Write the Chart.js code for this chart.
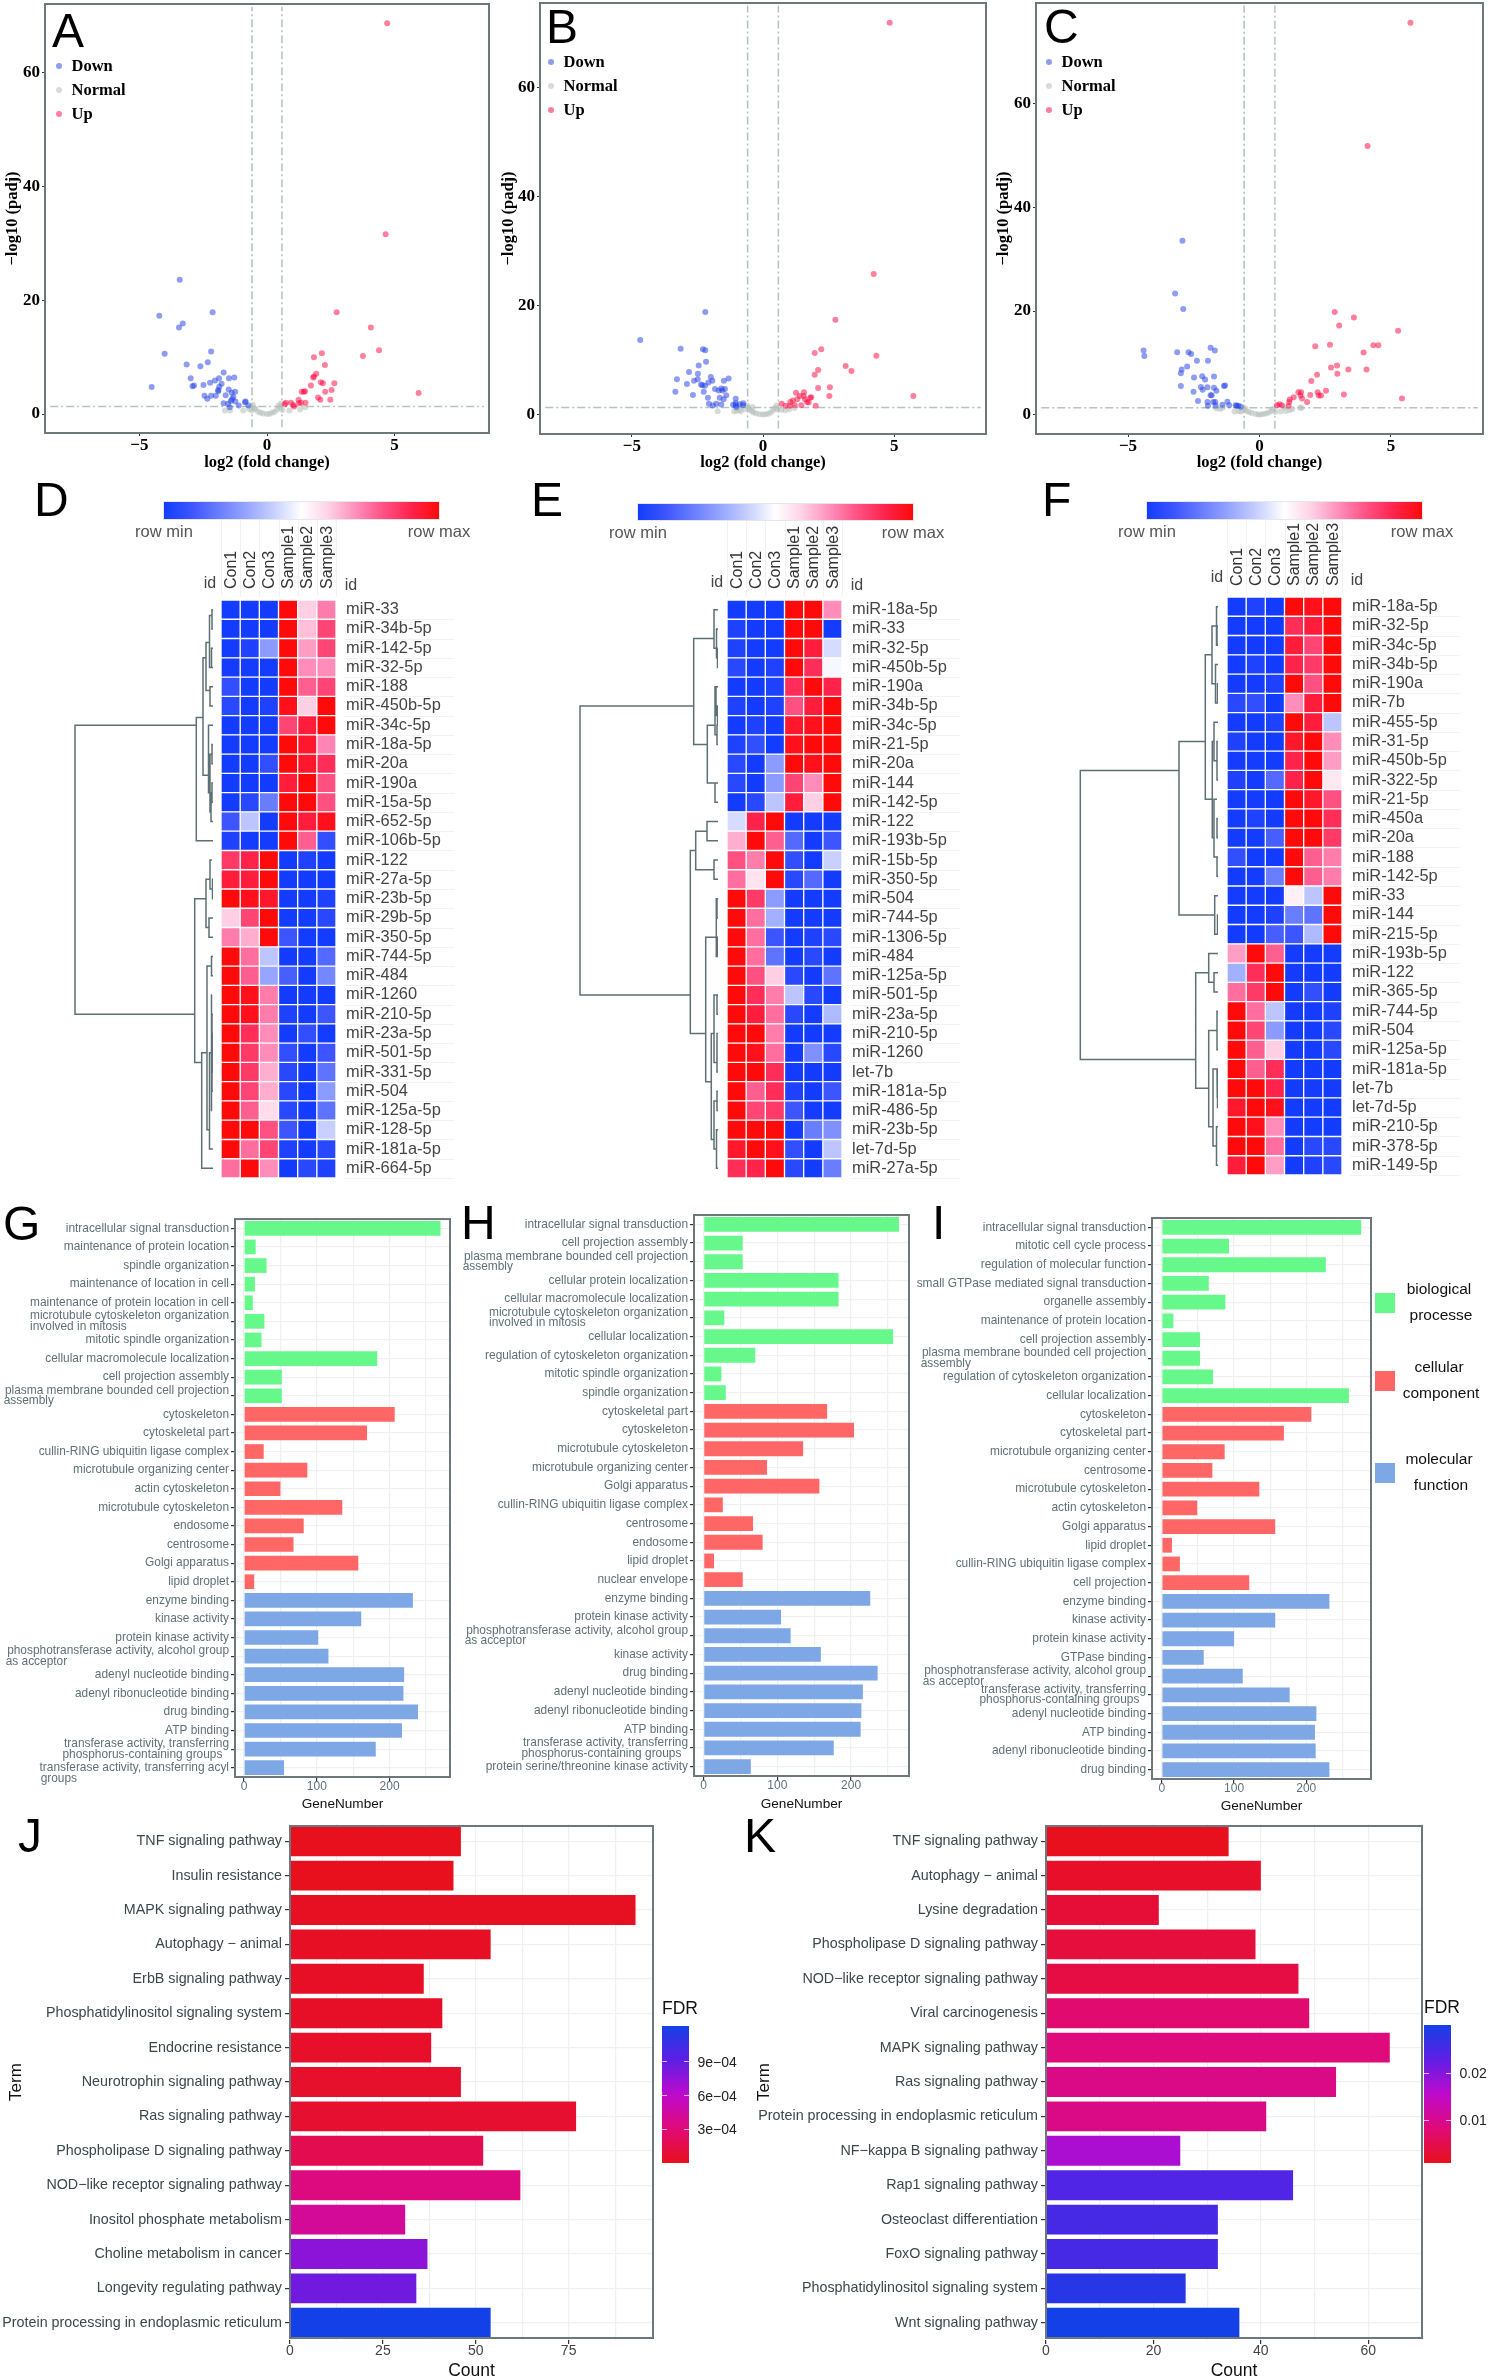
<!DOCTYPE html>
<html>
<head>
<meta charset="utf-8">
<title>miRNA figure</title>
<script src="https://cdn.jsdelivr.net/npm/chart.js@4"></script>
<style>
html, body { margin: 0; background: #fff; }
#page { position: relative; width: 1488px; height: 2380px; overflow: hidden; font-family: 'Liberation Sans', Arial, sans-serif; }
#page canvas { position: absolute; }
.t { position: absolute; white-space: nowrap; line-height: 1; }
</style>
</head>
<body>
<div id="page"></div>
<script>
// Volcano data, [log2 fold change, -log10 padj]
const upA = [[4.71,68.7],[4.65,31.6],[2.73,17.9],[4.07,15.2],[4.39,11.2],[3.76,10.2],[2.15,10.7],[1.84,10],[2.27,8.6],[1.93,7.1],[1.84,6.6],[1.81,6.4],[2.11,5.6],[2.19,5.4],[2.64,5.4],[2.53,4.2],[1.72,5],[2.28,3.9],[1.49,4],[1.45,3.9],[1.36,3.9],[2,2.9],[2.09,2.5],[2.48,2.5],[5.94,3.7],[1.24,2.5],[1.51,2],[1.33,2],[1.25,1.9],[1.03,1.6],[0.94,2],[0.74,2],[0.7,1.7],[1.06,1.3]];
const downA = [[-3.42,23.6],[-4.22,17.3],[-2.13,17.9],[-3.3,15.9],[-3.45,15.2],[-4.01,10.6],[-2.19,11],[-3.15,8.7],[-2.32,9.1],[-2.61,8.4],[-1.7,7.3],[-1.88,6.3],[-2.04,5.9],[-2.23,5.5],[-2.99,6.3],[-1.49,6.3],[-1.28,6.4],[-1.78,5.3],[-2.49,5.1],[-2.86,5],[-2.92,4.9],[-4.52,4.75],[-1.87,4.8],[-1.91,4.2],[-1.91,4],[-1.5,4.3],[-1.25,3.9],[-1.38,3.75],[-1.62,3.3],[-2.45,3.2],[-2.34,2.7],[-2.19,3.2],[-2.01,3.2],[-1.32,3],[-1.37,2.6],[-1.42,2.3],[-1.7,1.9],[-1.53,1.8],[-1.24,2.2],[-1.11,1.5],[-1.46,1.2],[-0.84,2.2],[-0.86,2.05],[-0.73,1.5]];
const normalA = [[-1.65,0.6],[-1.45,0.6],[-0.93,0.6],[-0.7,0.9],[-0.6,0.6],[-0.55,1.6],[-0.5,1],[-0.45,0.9],[-0.35,0.4],[-0.25,0.2],[-0.15,0.1],[0,0],[0.1,0.05],[0.2,0.2],[0.3,0.4],[0.4,0.8],[0.45,1.5],[0.5,1.2],[0.55,1.8],[0.6,0.7],[0.88,0.6],[1.3,0.8],[1.5,1.2]];

const upB = [[4.83,71.9],[4.22,25.8],[2.76,17.4],[2.22,12],[1.97,11.3],[4.32,10.8],[3.15,8.9],[3.37,8],[2.1,8.2],[1.97,7.3],[2.1,4.9],[2.55,5],[2.53,3.4],[5.73,3.4],[1.56,4.1],[1.26,4],[1.4,3.4],[1.55,3.4],[1.84,3.2],[1.8,3.1],[1.6,2.8],[1.31,2.8],[1.14,2.6],[1.04,2.3],[1.68,2.3],[1.74,2.2],[0.71,2],[1.46,1.7],[1.21,1.7],[2.01,1.6],[1.02,1.6],[0.86,1.6]];
const downB = [[-2.2,18.8],[-4.68,13.7],[-3.14,12.1],[-2.29,12],[-2.2,11.8],[-2.17,9.7],[-2.45,9],[-2.82,7.8],[-2.48,7.5],[-3.28,6.5],[-2.49,6.5],[-2.63,6.2],[-1.99,6.9],[-1.93,6.2],[-2.08,5.9],[-1.31,6.6],[-1.49,6.2],[-2.9,5.6],[-2.36,5.5],[-2.31,5.4],[-2.21,5.3],[-1.83,4.7],[-1.59,4.8],[-1.45,4.7],[-1.69,4.4],[-1.55,4.4],[-2.26,4.2],[-3.34,4.2],[-2.67,3.6],[-1.4,3.55],[-1.65,3.1],[-1.5,2.8],[-2.1,3.1],[-2.06,2],[-1.91,1.65],[-1.78,2],[-1.59,1.85],[-1.04,2.9],[-1.04,2.1],[-1.04,1.7],[-0.89,1.9],[-0.75,2.1],[-0.76,1.7],[-1.14,1.8],[-1.02,1.4]];
const normalB = [[-1.73,0.6],[-1.1,0.6],[-1,0.7],[-0.9,0.9],[-0.85,0.6],[-0.7,1],[-0.6,1.6],[-0.55,1.2],[-0.5,0.9],[-0.42,0.6],[-0.4,1.4],[-0.35,0.4],[-0.25,0.2],[-0.12,0.05],[0,0],[0.1,0.05],[0.2,0.15],[0.3,0.4],[0.38,0.8],[0.45,1.2],[0.52,1.7],[0.55,1],[0.7,0.9],[0.85,0.8],[1,1],[1.2,1.2]];

const upC = [[5.74,75.7],[4.11,51.9],[2.86,19.8],[3.59,18.75],[3.03,17.2],[5.27,16.2],[4.33,13.4],[4.52,13.4],[2.68,13.5],[2.12,13.2],[3.96,12],[2.95,9.5],[2.72,9.1],[3.38,8.7],[4.07,8.7],[2.96,7.9],[2.19,7.7],[1.97,6.5],[2.53,4.6],[1.48,4.3],[1.58,4.3],[2.21,4.3],[1.56,3.7],[1.93,3.8],[2.25,3.7],[2.34,3.7],[3.21,3.9],[5.42,3.1],[1.3,3.35],[1.62,3.1],[1.81,2.45],[1.15,2.9],[1.13,2.45],[1.11,1.7],[0.76,2],[0.66,1.8],[0.85,1.8]];
const downC = [[-2.93,33.6],[-3.21,23.4],[-2.9,20.4],[-4.41,12.4],[-4.38,11.3],[-3.13,12.05],[-2.7,12.05],[-2.6,11.7],[-1.86,12.9],[-1.7,12.4],[-2.38,10.4],[-1.96,10.4],[-2.75,9.3],[-2.96,8.7],[-2.99,8],[-2.49,7.15],[-2.18,7.4],[-2.07,6.8],[-1.73,7.35],[-2.99,5.5],[-2.23,5.35],[-1.98,5.3],[-2.16,4.8],[-1.73,5.2],[-1.64,4.6],[-1.35,5.5],[-1.31,5.6],[-2.51,4.4],[-1.86,3.75],[-1.82,3.75],[-2.34,2.6],[-1.98,2.45],[-1.76,2.45],[-1.68,2.45],[-1.22,2.5],[-1.96,1.7],[-1.67,1.7],[-1.41,1.9],[-1.15,1.8],[-0.9,1.8],[-0.8,1.7],[-0.87,1.7],[-0.71,1.5]];
const normalC = [[-1.65,1.2],[-1.5,1.1],[-1.4,1.3],[-0.95,0.6],[-0.8,0.7],[-0.7,0.6],[-0.6,0.9],[-0.55,1.2],[-0.5,0.7],[-0.4,0.5],[-0.3,0.3],[-0.15,0.1],[-0.05,0.02],[0.05,0.03],[0.15,0.1],[0.25,0.2],[0.35,0.4],[0.45,0.7],[0.5,1.1],[0.6,0.5],[0.8,0.6],[0.95,1.4],[1,0.7],[1.15,0.9],[1.25,1.1],[1.55,1.3],[1.6,1.3]];

const fcCut = 0.585;
const padjCut = 1.3;

// Heatmap data, row scaled from -1 (row min) to 1 (row max)
const sampleNames = ['Con1', 'Con2', 'Con3', 'Sample1', 'Sample2', 'Sample3'];

const rowsD = ['miR-33','miR-34b-5p','miR-142-5p','miR-32-5p','miR-188','miR-450b-5p','miR-34c-5p','miR-18a-5p','miR-20a','miR-190a','miR-15a-5p','miR-652-5p','miR-106b-5p','miR-122','miR-27a-5p','miR-23b-5p','miR-29b-5p','miR-350-5p','miR-744-5p','miR-484','miR-1260','miR-210-5p','miR-23a-5p','miR-501-5p','miR-331-5p','miR-504','miR-125a-5p','miR-128-5p','miR-181a-5p','miR-664-5p'];
const cellsD = [[-1,-1,-1,1,.2,.45],[-1,-1,-1,1,.25,.65],[-1,-.95,-.45,1,.35,.65],[-1,-1,-1,1,.4,.4],[-.85,-1,-1,1,.55,.65],[-.9,-1,-.95,.95,.2,1],[-1,-1,-1,.65,.85,1],[-1,-1,-1,1,.9,.42],[-1,-1,-.85,1,.9,.75],[-1,-1,-1,.85,1,.6],[-1,-.9,-.6,1,1,.6],[-.8,-.25,-1,1,.85,.95],[-.95,-1,-1,1,.55,-.85],[.7,.8,1,-1,-.95,-1],[.85,.85,1,-1,-1,-1],[1,.95,.9,-1,-1,-.95],[.2,.65,1,-1,-1,-.9],[.45,.3,1,-.8,-1,-1],[1,.5,-.25,-1,-1,-.7],[1,.55,-.4,-.75,-1,-.55],[1,.95,.45,-1,-1,-1],[1,.95,.45,-.95,-1,-.8],[1,.75,.4,-1,-.85,-1],[1,.7,.4,-.85,-1,-.8],[1,.7,.3,-.9,-1,-.65],[1,.65,.3,-.9,-1,-.45],[1,.55,.15,-.9,-1,-.65],[1,1,.6,-.8,-1,-.2],[1,.5,.65,-.95,-1,-.9],[.5,1,.4,-1,-.9,-.95]];

const rowsE = ['miR-18a-5p','miR-33','miR-32-5p','miR-450b-5p','miR-190a','miR-34b-5p','miR-34c-5p','miR-21-5p','miR-20a','miR-144','miR-142-5p','miR-122','miR-193b-5p','miR-15b-5p','miR-350-5p','miR-504','miR-744-5p','miR-1306-5p','miR-484','miR-125a-5p','miR-501-5p','miR-23a-5p','miR-210-5p','miR-1260','let-7b','miR-181a-5p','miR-486-5p','miR-23b-5p','let-7d-5p','miR-27a-5p'];
const cellsE = [[-1,-1,-1,1,1,.4],[-.95,-1,-1,1,1,-1],[-.95,-1,-1,1,.85,-.15],[-.9,-1,-.95,1,.75,-.03],[-1,-1,-.95,.75,1,.8],[-.95,-1,-.95,.6,.85,1],[-1,-.95,-1,.9,.95,1],[-.95,-.85,-1,.95,1,1],[-.9,-1,-.45,1,.95,1],[-.9,-1,-.45,.65,.4,1],[-1,-.9,-.25,.85,.2,1],[-.15,.8,1,-1,-1,-1],[.3,1,.55,-.7,-1,-.8],[.6,.45,1,-.85,-1,-.2],[.5,.12,1,-.9,-.7,-1],[1,.7,-.45,-1,-1,-1],[1,.5,-.35,-1,-1,-1],[1,.5,-.8,-1,-.95,-.9],[1,.5,-.65,-1,-.9,-1],[1,.6,.2,-.9,-1,-.65],[1,.75,.45,-.25,-.9,-1],[1,.85,.5,-.9,-1,-.3],[1,1,.45,-1,-1,-1],[1,.95,.5,-1,-.5,-.9],[1,1,.75,-1,-1,-1],[1,.55,.75,-.95,-1,-.8],[1,.65,.7,-.8,-1,-1],[1,1,1,-1,-.6,-.5],[.9,1,.95,-.85,-1,-.25],[.75,.8,1,-.9,-1,-.6]];

const rowsF = ['miR-18a-5p','miR-32-5p','miR-34c-5p','miR-34b-5p','miR-190a','miR-7b','miR-455-5p','miR-31-5p','miR-450b-5p','miR-322-5p','miR-21-5p','miR-450a','miR-20a','miR-188','miR-142-5p','miR-33','miR-144','miR-215-5p','miR-193b-5p','miR-122','miR-365-5p','miR-744-5p','miR-504','miR-125a-5p','miR-181a-5p','let-7b','let-7d-5p','miR-210-5p','miR-378-5p','miR-149-5p'];
const cellsF = [[-1,-.95,-1,1,.95,1],[-1,-1,-1,.75,.85,1],[-1,-1,-1,.85,.65,1],[-1,-.95,-1,.8,.7,1],[-1,-1,-.95,1,.6,1],[-.9,-.85,-1,.4,.85,1],[-1,-1,-.95,1,.85,-.25],[-.95,-1,-1,.9,1,.4],[-1,-1,-1,.8,1,.35],[-.95,-1,-.7,.8,1,.1],[-1,-1,-1,1,.9,.6],[-1,-.95,-1,1,1,.75],[-1,-1,-.75,1,1,.7],[-.85,-1,-1,1,.55,.45],[-1,-1,-.6,1,.55,.45],[-1,-1,-1,.07,-.25,1],[-1,-1,-.95,-.6,-.65,1],[-1,-1,-.75,-.8,-.3,1],[.35,1,.55,-1,-1,-1],[-.35,.75,1,-1,-1,-1],[.5,.7,1,-1,-.85,-1],[1,.5,-.25,-1,-1,-.95],[1,.65,-.45,-1,-1,-.9],[1,.55,.2,-1,-1,-.9],[1,.55,.75,-1,-1,-1],[1,1,.8,-1,-1,-1],[.9,1,.95,-1,-1,-1],[1,.95,.4,-1,-1,-1],[1,1,.5,-1,-.9,-.9],[.85,1,.35,-1,-.95,-.9]];

// Dendrogram merges: [merge height, row a, height a, row b, height b]
const dendroD = [[138,6,16.7,21,18.3],[16.7,5.6,10,12,0],[10,2.5,7,8.6,4.5],[7,1.7,3.5,4.2,3],[3.5,.3,1,3,1.5],[1,0,0,1,0],[1.5,2,0,3,0],[3,4,0,5,0],[4.5,6,0,9.5,3],[3,7.5,1,10.5,2],[1,7,0,8,0],[2,9.5,1,11,0],[1,9,0,10,0],[18.3,15,7,23.5,11.3],[7,14,3,16.5,4],[3,13,1,14.5,.5],[.5,14,0,15,0],[4,16,0,17,0],[11.3,23,6,29,0],[6,18.5,1.5,27,3.5],[1.5,18,0,19,0],[3.5,23,1.5,28,0],[1.5,20,1,26,1],[1,21,0,25,0],[.8,22,0,24,0],[1,23,0,25,0]];
const dendroE = [[138,5,24.3,20,27.7],[24.3,1.5,4,7,10.7],[4,0,0,2,1.5],[1.5,1,0,2.5,.5],[.5,2,0,3,0],[10.7,6,3,9,3],[3,4,2,6.5,1],[2,4,0,5.5,.5],[.5,5,0,6,0],[1,6,0,7,0],[3,9,0,10,0],[27.7,12.5,22.3,22,12.3],[22.3,11.5,11,13.5,4],[11,11,0,12,0],[4,13,0,14,0],[12.3,17,1.7,24.5,6.7],[1.7,15,1,18,.7],[1,15,0,16,0],[.7,17,0,18,0],[6.7,22,4,27.5,4],[4,20,1,23.5,1],[1,20,0,21,0],[1,22,0,24,0],[4,25.5,1,28,1.5],[1,25,0,26,0],[1.5,27,0,29,0]];
const dendroF = [[137.7,8.5,39,23.5,22.3],[39,7,12.7,16,3.3],[12.7,2.5,6,10,5.7],[6,1,1.5,4,2.5],[1.5,0,0,2,0],[1,1,0,2,0],[2.5,3,0,5,.5],[.5,4,0,5,0],[5.7,7,4,12,4],[4,6,0,8,1],[1,7,0,9,0],[4,10,1,13,1],[1,11,0,12,0],[1,13,0,14,0],[3.3,15,0,17,.5],[.5,16,0,17,0],[22.3,19,9.3,25,9.3],[9.3,18,0,19.5,4],[4,19,0,20,0],[9.3,22,1,27,5],[1,21,0,23,0],[5,24,1,28,1.5],[1,24,0,25.5,.5],[.5,25,0,26,0],[1.5,27,0,29,0]];

// GO enrichment gene counts
const termsG = ['intracellular signal transduction','maintenance of protein location','spindle organization','maintenance of location in cell','maintenance of protein location in cell',['microtubule cytoskeleton organization','involved in mitosis'],'mitotic spindle organization','cellular macromolecule localization','cell projection assembly',['plasma membrane bounded cell projection','assembly'],'cytoskeleton','cytoskeletal part','cullin-RING ubiquitin ligase complex','microtubule organizing center','actin cytoskeleton','microtubule cytoskeleton','endosome','centrosome','Golgi apparatus','lipid droplet','enzyme binding','kinase activity','protein kinase activity',['phosphotransferase activity, alcohol group','as acceptor'],'adenyl nucleotide binding','adenyl ribonucleotide binding','drug binding','ATP binding',['transferase activity, transferring','phosphorus-containing groups'],['','transferase activity, transferring acyl','groups']];
const countsG = [270,16,31,15,12,28,24,183,52,52,207,169,27,87,50,135,82,68,157,14,232,161,102,116,220,219,239,217,181,55];

const termsH = ['intracellular signal transduction','cell projection assembly',['plasma membrane bounded cell projection','assembly'],'cellular protein localization','cellular macromolecule localization',['microtubule cytoskeleton organization','involved in mitosis'],'cellular localization','regulation of cytoskeleton organization','mitotic spindle organization','spindle organization','cytoskeletal part','cytoskeleton','microtubule cytoskeleton','microtubule organizing center','Golgi apparatus','cullin-RING ubiquitin ligase complex','centrosome','endosome','lipid droplet','nuclear envelope','enzyme binding','protein kinase activity',['phosphotransferase activity, alcohol group','as acceptor'],'kinase activity','drug binding','adenyl nucleotide binding','adenyl ribonucleotide binding','ATP binding',['transferase activity, transferring','phosphorus-containing groups'],'protein serine/threonine kinase activity'];
const countsH = [265,53,53,183,183,28,257,70,24,30,167.5,204,135,86,157,26,67,80,14,53,226,105,118,159,236,216,214,213,176.5,64];

const termsI = ['intracellular signal transduction','mitotic cell cycle process','regulation of molecular function','small GTPase mediated signal transduction','organelle assembly','maintenance of protein location','cell projection assembly',['plasma membrane bounded cell projection','assembly'],'regulation of cytoskeleton organization','cellular localization','cytoskeleton','cytoskeletal part','microtubule organizing center','centrosome','microtubule cytoskeleton','actin cytoskeleton','Golgi apparatus','lipid droplet','cullin-RING ubiquitin ligase complex','cell projection','enzyme binding','kinase activity','protein kinase activity','GTPase binding',['phosphotransferase activity, alcohol group','as acceptor'],['transferase activity, transferring','phosphorus-containing groups'],'adenyl nucleotide binding','ATP binding','adenyl ribonucleotide binding','drug binding'];
const countsI = [276,93,227,65,88,16,53,53,71,259,207,169,87,70,135,49,157,14,25,121,232,157,100,58,112,177,214,212,213,232];

// KEGG counts and FDR
const termsJ = ['TNF signaling pathway','Insulin resistance','MAPK signaling pathway','Autophagy \u2212 animal','ErbB signaling pathway','Phosphatidylinositol signaling system','Endocrine resistance','Neurotrophin signaling pathway','Ras signaling pathway','Phospholipase D signaling pathway','NOD\u2212like receptor signaling pathway','Inositol phosphate metabolism','Choline metabolism in cancer','Longevity regulating pathway','Protein processing in endoplasmic reticulum'];
const countsJ = [46,44,93,54,36,41,38,46,77,52,62,31,37,34,54];
const fdrJ = [.05e-4,.1e-4,.25e-4,.3e-4,.4e-4,.45e-4,.5e-4,.6e-4,.7e-4,1.8e-4,3.3e-4,4.2e-4,7.7e-4,8.6e-4,12.2e-4];

const termsK = ['TNF signaling pathway','Autophagy \u2212 animal','Lysine degradation','Phospholipase D signaling pathway','NOD\u2212like receptor signaling pathway','Viral carcinogenesis','MAPK signaling pathway','Ras signaling pathway','Protein processing in endoplasmic reticulum','NF\u2212kappa B signaling pathway','Rap1 signaling pathway','Osteoclast differentiation','FoxO signaling pathway','Phosphatidylinositol signaling system','Wnt signaling pathway'];
const countsK = [34,40,21,39,47,49,64,54,41,25,46,32,32,26,36];
const fdrK = [.001,.002,.003,.0035,.004,.0075,.0085,.0095,.0095,.017,.0245,.0255,.0255,.0285,.0304];

const page = document.getElementById('page');
const dotColors = { Down: 'rgba(30,60,230,0.5)', Normal: 'rgba(180,192,186,0.55)', Up: 'rgba(255,0,60,0.5)' };
const goColors = ['#66f88a', '#ff6666', '#7ea7e6'];

const heatStops = [[-1,[20,60,255]],[-.8,[60,85,255]],[-.6,[105,125,255]],[-.4,[150,165,255]],[-.2,[200,208,255]],[0,[255,255,255]],[.2,[255,208,228]],[.4,[255,140,185]],[.6,[255,80,130]],[.8,[255,35,75]],[1,[255,10,10]]];
const fdrStops = [[0,[232,16,26]],[.25,[224,10,120]],[.5,[190,10,205]],[.75,[95,30,228]],[1,[20,64,232]]];

function rampColor(stops, v) {
    for (let i = 1; i < stops.length; i++) {
        if (v <= stops[i][0]) {
            const [a, ca] = stops[i - 1];
            const [b, cb] = stops[i];
            const f = Math.max(0, (v - a) / (b - a));
            return `rgb(${ca.map((c, k) => Math.round(c + (cb[k] - c) * f)).join(',')})`;
        }
    }
    return `rgb(${stops[stops.length - 1][1].join(',')})`;
}

function cssRamp(stops, dir) {
    const lo = stops[0][0], hi = stops[stops.length - 1][0];
    const parts = stops.map(s => `rgb(${s[1].join(',')}) ${(s[0] - lo) / (hi - lo) * 100}%`);
    return `linear-gradient(${dir}, ${parts.join(', ')})`;
}

function addText(str, x, y, font, opts = {}) {
    const el = document.createElement('span');
    el.className = 't';
    el.textContent = str;
    el.style.left = x + 'px';
    el.style.top = y + 'px';
    el.style.font = font;
    el.style.lineHeight = '1';
    el.style.color = opts.color || '#111';
    el.style.transform = opts.left ? 'translateY(-50%)' : 'translate(-50%,-50%)';
    page.appendChild(el);
}

function addBox(x, y, w, h, bg, extra) {
    const el = document.createElement('div');
    el.style.cssText = `position:absolute;left:${x}px;top:${y}px;width:${w}px;height:${h}px;background:${bg};${extra || ''}`;
    page.appendChild(el);
}

function addLetter(str, x, top) {
    const el = document.createElement('span');
    el.className = 't';
    el.textContent = str;
    el.style.cssText += `left:${x}px;top:${top}px;font:48px 'Liberation Sans';line-height:48px;color:#000;`;
    page.appendChild(el);
}

function newCanvas(l, t, w, h) {
    const c = document.createElement('canvas');
    c.width = w;
    c.height = h;
    c.style.left = l + 'px';
    c.style.top = t + 'px';
    page.appendChild(c);
    return c.getContext('2d');
}

// box round the plot, inset is used where the bars are cut by the panel edge
const framePlugin = {
    id: 'frame',
    afterDraw(chart, args, opts) {
        const a = chart.chartArea, c = chart.ctx;
        const inT = opts.insetTop || 0, inB = opts.insetBottom || 0;
        c.save();
        c.strokeStyle = '#6d787c';
        c.lineWidth = 2;
        c.strokeRect(a.left, a.top + inT, a.right - a.left, a.bottom - a.top - inT - inB);
        c.restore();
    }
};

const baseOptions = { responsive: false, animation: false, events: [], plugins: { legend: { display: false }, tooltip: { enabled: false } } };

// Volcano panels
function volcano(cfg) {
    const p = cfg.plot, ml = 45, mt = 16, mr = 6, mb = 42;
    const ctx = newCanvas(p.l - ml, p.t - mt, p.r - p.l + ml + mr, p.b - p.t + mt + mb);
    const toXY = arr => arr.map(d => ({ x: d[0], y: d[1] }));
    const dots = (arr, color) => ({ data: toXY(arr), backgroundColor: color, borderWidth: 0, pointRadius: 3, showLine: false });
    const cut = pts => ({ data: pts, showLine: true, pointRadius: 0, borderColor: '#b6c2c2', borderWidth: 1.5, borderDash: [8, 3, 2, 3] });
    const xm = cfg.xMax - 0.2;
    new Chart(ctx, {
        type: 'scatter',
        data: { datasets: [
            dots(cfg.up, dotColors.Up),
            dots(cfg.down, dotColors.Down),
            dots(cfg.normal, dotColors.Normal),
            cut([{ x: -fcCut, y: cfg.yMin + 1 }, { x: -fcCut, y: cfg.yMax - 0.5 }]),
            cut([{ x: fcCut, y: cfg.yMin + 1 }, { x: fcCut, y: cfg.yMax - 0.5 }]),
            cut([{ x: -xm, y: padjCut }, { x: xm, y: padjCut }])
        ] },
        options: {
            ...baseOptions,
            layout: { padding: { top: mt, right: mr, left: 0, bottom: 0 } },
            plugins: { ...baseOptions.plugins, frame: {} },
            scales: {
                x: {
                    min: -cfg.xMax, max: cfg.xMax,
                    afterFit: s => { s.height = mb; },
                    border: { display: false },
                    grid: { drawOnChartArea: false, tickLength: 3, tickColor: '#333' },
                    ticks: { stepSize: 5, includeBounds: false, padding: 1, color: '#000', font: { family: 'Liberation Serif', weight: 'bold', size: 17, lineHeight: 1 }, maxRotation: 0, callback: v => String(v).replace('-', '\u2212') },
                    title: { display: true, text: 'log2 (fold change)', color: '#000', font: { family: 'Liberation Serif', weight: 'bold', size: 16.5, lineHeight: 1.2 }, padding: { top: 0, bottom: p.b + mb - cfg.xTitleY - 10 } }
                },
                y: {
                    min: cfg.yMin, max: cfg.yMax,
                    afterFit: s => { s.width = ml; },
                    border: { display: false },
                    grid: { drawOnChartArea: false, tickLength: 3, tickColor: '#333' },
                    ticks: { stepSize: 20, includeBounds: false, padding: 2, color: '#000', font: { family: 'Liberation Serif', weight: 'bold', size: 17 } },
                    title: { display: true, text: '\u2212log10 (padj)', color: '#000', font: { family: 'Liberation Serif', weight: 'bold', size: 16.5, lineHeight: 1.2 }, padding: { top: cfg.yTitleX - (p.l - ml) - 10, bottom: 0 } }
                }
            }
        },
        plugins: [framePlugin]
    });
    // legend
    ['Down', 'Normal', 'Up'].forEach((name, i) => {
        const y = cfg.legendY[i];
        addBox(cfg.legendX - 3, y - 3, 6, 6, dotColors[name], 'border-radius:50%');
        addText(name, cfg.legendX + 12.5, y, "bold 16.5px 'Liberation Serif'", { left: true, color: '#000' });
    });
}

volcano({ plot: { l: 45, r: 489, t: 4, b: 433 }, up: upA, down: downA, normal: normalA, xMax: 8.7, yMin: -3.34, yMax: 72.1, xTitleY: 463, yTitleX: 13, legendX: 59, legendY: [66, 90, 114] });
volcano({ plot: { l: 540, r: 986, t: 3, b: 434 }, up: upB, down: downB, normal: normalB, xMax: 8.5, yMin: -3.56, yMax: 75.5, xTitleY: 463, yTitleX: 509, legendX: 551, legendY: [62, 86, 110] });
volcano({ plot: { l: 1036, r: 1483, t: 3, b: 434 }, up: upC, down: downC, normal: normalC, xMax: 8.5, yMin: -3.75, yMax: 79.5, xTitleY: 463, yTitleX: 1004, legendX: 1049, legendY: [62, 86, 110] });

// Heatmap panels, one stacked bar per row with one unit per sample
function heatmap(cfg) {
    const p = cfg.plot, ml = 40, mt = 90, mr = 125, mb = 24;
    const ctx = newCanvas(p.l - ml, p.t - mt, p.r - p.l + ml + mr, p.b - p.t + mt + mb);
    const rowLines = {
        id: 'rowLines',
        beforeDraw(chart) {
            const a = chart.chartArea, c = chart.ctx, ys = chart.scales.y, xs = chart.scales.x;
            c.save();
            c.strokeStyle = '#f1f3f3';
            c.lineWidth = 1;
            c.beginPath();
            cfg.rows.forEach((r, i) => {
                const y = Math.round(ys.getPixelForValue(i) + 9.6) + 0.5;
                c.moveTo(a.right + 8, y);
                c.lineTo(a.right + 118, y);
            });
            for (let v = 0; v <= sampleNames.length; v++) {
                const x = Math.round(xs.getPixelForValue(v)) + 0.5;
                c.moveTo(x, 8);
                c.lineTo(x, a.top - 3);
            }
            c.stroke();
            c.restore();
        }
    };
    new Chart(ctx, {
        type: 'bar',
        data: {
            labels: cfg.rows,
            datasets: sampleNames.map((s, col) => ({
                label: s,
                data: cfg.rows.map(() => 1),
                backgroundColor: cfg.cells.map(row => rampColor(heatStops, row[col])),
                borderColor: '#fff',
                borderWidth: 1,
                borderSkipped: false,
                barPercentage: 1,
                categoryPercentage: 1
            }))
        },
        options: {
            ...baseOptions,
            indexAxis: 'y',
            layout: { padding: { top: 0, right: 0, left: ml, bottom: mb } },
            scales: {
                x: {
                    position: 'top', stacked: true, min: 0, max: sampleNames.length,
                    afterFit: s => { s.height = mt; },
                    afterBuildTicks: s => { s.ticks = sampleNames.map((n, i) => ({ value: i + 0.5 })); },
                    border: { display: false },
                    grid: { display: false, drawTicks: false },
                    // the library pushes rotated top labels one line height to the left
                    ticks: { autoSkip: false, minRotation: 90, maxRotation: 90, padding: 11, labelOffset: 20, color: '#333', font: { family: 'Liberation Sans', size: 16 }, callback: v => sampleNames[v - 0.5] }
                },
                y: {
                    position: 'right', stacked: true,
                    afterFit: s => { s.width = mr; },
                    border: { display: false },
                    grid: { display: false, drawTicks: false },
                    ticks: { autoSkip: false, padding: 10, color: '#444', font: { family: 'Liberation Sans', size: 16.4 } }
                }
            }
        },
        plugins: [rowLines]
    });

    // dendrogram on the left of the cells
    const d = cfg.dendro, w = 146;
    const pts = [];
    d.forEach(m => {
        pts.push({ x: m[2], y: m[1] }, { x: m[0], y: m[1] }, { x: m[0], y: m[3] }, { x: m[4], y: m[3] }, { x: null, y: null });
    });
    const dctx = newCanvas(cfg.leafX - w, p.t, w, p.b - p.t);
    new Chart(dctx, {
        type: 'scatter',
        data: { datasets: [{ data: pts, showLine: true, spanGaps: false, pointRadius: 0, borderColor: '#5d7076', borderWidth: 1.5 }] },
        options: {
            ...baseOptions,
            scales: {
                x: { display: false, reverse: true, min: 0, max: w },
                y: { display: false, reverse: true, min: -0.5, max: cfg.rows.length - 0.5 }
            }
        }
    });

    // colour key
    const k = cfg.key;
    addBox(k.l, k.t, k.r - k.l, k.b - k.t, cssRamp(heatStops, 'to right'), 'box-shadow:0 0 0 1px #e6e6ee');
    addText('row min', k.l, k.b + 12, "16.5px 'Liberation Sans'", { color: '#555' });
    addText('row max', k.r, k.b + 12, "16.5px 'Liberation Sans'", { color: '#555' });
    addText('id', cfg.idL[0], cfg.idL[1], "16px 'Liberation Sans'", { color: '#444' });
    addText('id', cfg.idR[0], cfg.idR[1], "16px 'Liberation Sans'", { color: '#444' });
}

heatmap({ plot: { l: 221, r: 336, t: 600, b: 1178 }, rows: rowsD, cells: cellsD, dendro: dendroD, leafX: 213, key: { l: 164, r: 439, t: 502, b: 519 }, idL: [210, 583], idR: [351, 585] });
heatmap({ plot: { l: 727, r: 842, t: 600, b: 1178 }, rows: rowsE, cells: cellsE, dendro: dendroE, leafX: 718, key: { l: 638, r: 913, t: 504, b: 520 }, idL: [717, 582], idR: [857, 585] });
heatmap({ plot: { l: 1227, r: 1342, t: 597, b: 1175 }, rows: rowsF, cells: cellsF, dendro: dendroF, leafX: 1218, key: { l: 1147, r: 1422, t: 502, b: 519 }, idL: [1217, 577], idR: [1357, 580] });

// line up wrapped labels on their left side, as in the figure
const measureCtx = document.createElement('canvas').getContext('2d');
function padLabel(label, font) {
    if (!Array.isArray(label)) return label;
    measureCtx.font = font;
    const sp = measureCtx.measureText(' ').width;
    const widths = label.map(l => measureCtx.measureText(l).width);
    const most = Math.max(...widths);
    return label.map((l, i) => l + ' '.repeat(Math.round((most - widths[i]) / sp)));
}

// GO panels
function goBars(cfg) {
    const p = cfg.plot, mt = 16, mr = 16, mb = 40;
    const ml = cfg.ml;
    const labelFont = "11.9px 'Liberation Sans'";
    const ctx = newCanvas(p.l - ml, p.t - mt, p.r - p.l + ml + mr, p.b - p.t + mt + mb);
    new Chart(ctx, {
        type: 'bar',
        data: {
            labels: cfg.terms.map(t => padLabel(t, labelFont)),
            datasets: [{ data: cfg.counts, backgroundColor: cfg.counts.map((c, i) => goColors[Math.floor(i / 10)]), barPercentage: 0.79, categoryPercentage: 1 }]
        },
        options: {
            ...baseOptions,
            indexAxis: 'y',
            layout: { padding: { top: mt, right: mr, left: 0, bottom: 0 } },
            plugins: { ...baseOptions.plugins, frame: {} },
            scales: {
                x: {
                    min: cfg.xMin, max: cfg.xMax,
                    afterFit: s => { s.height = mb; },
                    border: { display: false },
                    grid: { color: '#edf1ef', lineWidth: 1.2, tickLength: 4, tickColor: c => (c.tick && c.tick.value % 100 === 0) ? '#333' : 'transparent' },
                    ticks: { stepSize: 50, includeBounds: false, padding: 0, maxRotation: 0, autoSkip: false, color: '#5f7178', font: { family: 'Liberation Sans', size: 12, lineHeight: 1 }, callback: v => (v % 100 === 0 ? String(v) : '') },
                    title: { display: true, text: 'GeneNumber', color: '#111', font: { family: 'Liberation Sans', size: 13.6, lineHeight: 1.2 }, padding: { top: 0, bottom: p.b + mb - cfg.titleY - 8 } }
                },
                y: {
                    afterFit: s => { s.width = ml; },
                    border: { display: false },
                    grid: { offset: false, color: '#edf1ef', lineWidth: 1.2, tickLength: 4, tickColor: '#333' },
                    ticks: { autoSkip: false, padding: 2, color: '#5f7178', font: { family: 'Liberation Sans', size: 11.9, lineHeight: 0.9 } }
                }
            }
        },
        plugins: [framePlugin]
    });
}

goBars({ plot: { l: 235, r: 450, t: 1217, b: 1777 }, ml: 235, terms: termsG, counts: countsG, xMin: -12.4, xMax: 283, titleY: 1804 });
goBars({ plot: { l: 694, r: 909, t: 1215, b: 1776 }, ml: 235, terms: termsH, counts: countsH, xMin: -13.1, xMax: 278.6, titleY: 1804 });
goBars({ plot: { l: 1152, r: 1371, t: 1218, b: 1779 }, ml: 235, terms: termsI, counts: countsI, xMin: -13.6, xMax: 289.6, titleY: 1806 });

// GO category key
[['biological', 'processe', 1293], ['cellular', 'component', 1371], ['molecular', 'function', 1463]].forEach((row, i) => {
    addBox(1375, row[2], 20, 20, goColors[i]);
    addText(row[0], 1439, row[2] - 4, "15.5px 'Liberation Sans'");
    addText(row[1], 1441, row[2] + 22, "15.5px 'Liberation Sans'");
});

// KEGG panels
function keggBars(cfg) {
    const p = cfg.plot, mt = 16, mr = 10, mb = 42;
    const ml = cfg.ml;
    const ctx = newCanvas(p.l - ml, p.t - mt, p.r - p.l + ml + mr, p.b - p.t + mt + mb);
    new Chart(ctx, {
        type: 'bar',
        data: {
            labels: cfg.terms,
            datasets: [{
                data: cfg.counts,
                backgroundColor: cfg.fdr.map(v => rampColor(fdrStops, (v - cfg.fdrMin) / (cfg.fdrMax - cfg.fdrMin))),
                barPercentage: 0.87, categoryPercentage: 1
            }]
        },
        options: {
            ...baseOptions,
            indexAxis: 'y',
            layout: { padding: { top: mt, right: mr, left: 0, bottom: 0 } },
            plugins: { ...baseOptions.plugins, frame: { insetTop: 2, insetBottom: 2 } },
            scales: {
                x: {
                    min: 0, max: cfg.xMax,
                    afterFit: s => { s.height = mb; },
                    border: { display: false },
                    grid: { color: '#edf1ef', lineWidth: 1.2, tickLength: 4, tickColor: c => (c.tick && c.tick.value % cfg.step === 0) ? '#333' : 'transparent' },
                    ticks: { stepSize: cfg.step / 2, includeBounds: false, padding: 0, maxRotation: 0, autoSkip: false, color: '#444', font: { family: 'Liberation Sans', size: 14, lineHeight: 1 }, callback: v => (v % cfg.step === 0 ? String(v) : '') },
                    title: { display: true, text: 'Count', color: '#111', font: { family: 'Liberation Sans', size: 17.5, lineHeight: 1.2 }, padding: { top: 0, bottom: p.b + mb - 2371 - 10.5 } }
                },
                y: {
                    afterFit: s => { s.width = ml; },
                    border: { display: false },
                    grid: { offset: false, color: '#edf1ef', lineWidth: 1.2, tickLength: 5, tickColor: '#333' },
                    ticks: { autoSkip: false, padding: 3, color: '#3c474b', font: { family: 'Liberation Sans', size: 14.3 } },
                    title: { display: true, text: 'Term', color: '#111', font: { family: 'Liberation Sans', size: 17, lineHeight: 1.2 }, padding: { top: cfg.termX - (p.l - ml) - 10, bottom: 0 } }
                }
            }
        },
        plugins: [framePlugin]
    });

    // FDR colour bar
    const b = cfg.bar;
    addBox(b.l, b.t, b.r - b.l, b.b - b.t, cssRamp(fdrStops, 'to top'));
    addText('FDR', b.l, b.t - 17, "17.5px 'Liberation Sans'", { left: true });
    cfg.fdrTicks.forEach((v, i) => {
        const y = b.b - (v - cfg.fdrMin) / (cfg.fdrMax - cfg.fdrMin) * (b.b - b.t);
        addBox(b.l, y - 0.5, 5, 1, 'rgba(255,255,255,.7)');
        addBox(b.r - 5, y - 0.5, 5, 1, 'rgba(255,255,255,.7)');
        addText(cfg.fdrLabels[i], b.r + 8.5, y, "14px 'Liberation Sans'", { left: true, color: '#222' });
    });
}

keggBars({ plot: { l: 290, r: 653, t: 1824, b: 2340 }, ml: 290, terms: termsJ, counts: countsJ, fdr: fdrJ, fdrMin: 0, fdrMax: 12.2e-4, xMax: 97.7, step: 25, termX: 16, bar: { l: 662, r: 689, t: 2026, b: 2163 }, fdrTicks: [3e-4, 6e-4, 9e-4], fdrLabels: ['3e\u221204', '6e\u221204', '9e\u221204'] });
keggBars({ plot: { l: 1046, r: 1422, t: 1824, b: 2340 }, ml: 302, terms: termsK, counts: countsK, fdr: fdrK, fdrMin: 0.0008, fdrMax: 0.0304, xMax: 70, step: 20, termX: 764, bar: { l: 1424, r: 1451, t: 2025, b: 2163 }, fdrTicks: [0.01, 0.02], fdrLabels: ['0.01', '0.02'] });

// Panel letters
[['A',52,7],['B',546,3],['C',1044,3],['D',34,476],['E',531,476],['F',1042,476],['G',3,1200],['H',461,1199],['I',932,1199],['J',18,1812],['K',744,1812]].forEach(l => addLetter(l[0], l[1], l[2]));
</script>
</body>
</html>
